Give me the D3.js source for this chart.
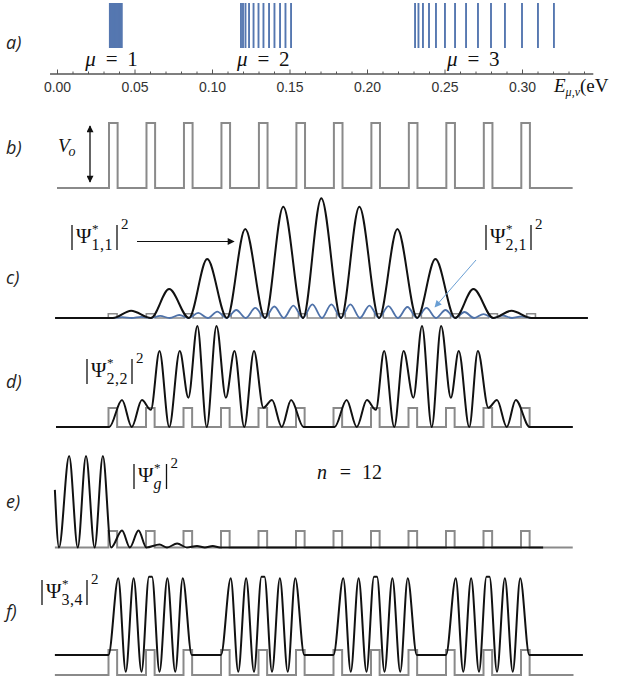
<!DOCTYPE html>
<html><head><meta charset="utf-8">
<script src="https://cdn.jsdelivr.net/npm/d3@7/dist/d3.min.js"></script>
<style>body{margin:0;background:#fff}svg{display:block}</style>
</head><body>
<script>
// ================= DATA =================
const energyTicks = [0.00, 0.05, 0.10, 0.15, 0.20, 0.25, 0.30];
const energyMinorTicks = [0.01,0.02,0.03,0.04,0.06,0.07,0.08,0.09,0.11,0.12,0.13,0.14,0.16,0.17,0.18,0.19,
  0.21,0.22,0.23,0.24,0.26,0.27,0.28,0.29,0.31,0.32,0.33,0.34];
const axisExtent = [-0.0045, 0.346];
const levelsMu1 = [0.0342,0.0345,0.0350,0.0356,0.0363,0.0370,0.0378,0.0386,0.0394,0.0402,0.0410,0.0417];
const levelsMu2 = [0.1187,0.1200,0.1216,0.1239,0.1268,0.1300,0.1332,0.1368,0.1403,0.1439,0.1474,0.1510];
const levelsMu3 = [0.2310,0.2332,0.2361,0.2400,0.2445,0.2503,0.2568,0.2639,0.2716,0.2800,0.2890,0.3000,0.3103,0.3206];
const bandNumbers = ["1", "2", "3"];
const bandLabelEnergy = [0.0352, 0.1331, 0.2686];
const panelLetters = ["a)", "b)", "c)", "d)", "e)", "f)"];

// lattice: barrier k occupies [k, k+barrierWidth] (lattice units)
const barrierStarts = [0,1,2,3,4,5,6,7,8,9,10,11];
const barrierWidth = 0.23;

// c) |Psi*_{1,1}|^2  (black), [position, value]
const psi11 = [[-1.40,0],[0.12,0],[0.60,0.061],[1.12,0],[1.60,0.242],[2.12,0],[2.60,0.493],[3.12,0],[3.60,0.744],
  [4.12,0],[4.60,0.930],[5.12,0],[5.60,1.000],[6.12,0],[6.60,0.930],[7.12,0],[7.60,0.744],[8.12,0],[8.60,0.493],
  [9.12,0],[9.60,0.242],[10.12,0],[10.60,0.061],[11.12,0],[12.61,0]];
// c) |Psi*_{2,1}|^2  (blue)
const psi21 = [[-0.43,0],[0.115,0],[0.365,0.007],[0.615,0],[0.865,0.010],[1.115,0],[1.365,0.017],[1.615,0],[1.865,0.025],
  [2.115,0],[2.365,0.042],[2.615,0],[2.865,0.054],[3.115,0],[3.365,0.067],[3.615,0],[3.865,0.084],[4.115,0],
  [4.365,0.096],[4.615,0],[4.865,0.104],[5.115,0],[5.365,0.113],[5.615,0],[5.865,0.114],[6.115,0],[6.365,0.113],
  [6.615,0],[6.865,0.104],[7.115,0],[7.365,0.100],[7.615,0],[7.865,0.092],[8.115,0],[8.365,0.084],[8.615,0],
  [8.865,0.067],[9.115,0],[9.365,0.050],[9.615,0],[9.865,0.033],[10.115,0],[10.365,0.021],[10.615,0],[10.865,0.013],
  [11.115,0],[11.61,0]];
// d) |Psi*_{2,2}|^2
const psi22 = [[-1.40,0],[0.02,0],[0.36,0.267],[0.62,0],[0.89,0.267],[1.13,0.17],[1.36,0.752],[1.62,0],[1.90,0.752],
  [2.13,0.29],[2.37,1.0],[2.62,0],[2.88,1.0],[3.13,0.29],[3.36,0.752],[3.62,0],[3.88,0.752],[4.13,0.19],[4.36,0.267],
  [4.62,0],[4.87,0.267],[5.20,0],[6.03,0],[6.35,0.267],[6.62,0],[6.89,0.267],[7.13,0.17],[7.35,0.752],[7.62,0],
  [7.87,0.752],[8.13,0.29],[8.36,1.0],[8.62,0],[8.87,1.0],[9.13,0.29],[9.34,0.752],[9.62,0],[9.85,0.752],[10.13,0.19],
  [10.36,0.267],[10.62,0],[10.86,0.267],[11.23,0],[12.38,0]];
// e) |Psi*_g|^2
const psiG = [[-1.43,0.63],[-1.32,0],[-1.05,1.0],[-0.82,0],[-0.60,1.0],[-0.37,0],[-0.15,1.0],[0.07,0],[0.36,0.186],
  [0.57,0],[0.80,0.186],[1.01,0],[1.36,0.033],[1.56,0],[1.83,0.044],[2.09,0],[2.36,0.016],[2.57,0],[2.78,0.016],
  [2.97,0],[11.59,0]];
// f) |Psi*_{3,4}|^2
const psi34 = [[-1.43,0.207],[0.00,0.207],[0.26,1.0],[0.46,0.034],[0.67,1.0],[0.88,0.034],[1.08,1.017],[1.16,1.017],
  [1.36,0.034],[1.57,1.0],[1.78,0.034],[1.98,1.0],[2.22,0.207],
  [3.00,0.207],[3.26,1.0],[3.46,0.034],[3.67,1.0],[3.88,0.034],[4.08,1.017],[4.16,1.017],[4.36,0.034],
  [4.57,1.0],[4.78,0.034],[4.98,1.0],[5.22,0.207],
  [6.00,0.207],[6.26,1.0],[6.46,0.034],[6.67,1.0],[6.88,0.034],[7.08,1.017],[7.16,1.017],[7.36,0.034],
  [7.57,1.0],[7.78,0.034],[7.98,1.0],[8.22,0.207],
  [9.00,0.207],[9.26,1.0],[9.46,0.034],[9.67,1.0],[9.88,0.034],[10.08,1.017],[10.16,1.017],[10.36,0.034],
  [10.57,1.0],[10.78,0.034],[10.98,1.0],[11.22,0.207],[12.65,0.207]];

// ================= DRAWING =================
const MATH = "'Liberation Serif','DejaVu Serif',serif";
const SANS = "'Liberation Sans',Arial,sans-serif";
const LAB = "'Open Sans','Liberation Sans',sans-serif";
const BLACK = "#111", GRAY = "#8a8a8a", BLUE = "#4f72a9", BLUE2 = "#6a9fd4", BAR = "#5577b0";

const svg = d3.select("body").append("svg").attr("width", 618).attr("height", 680);
const defs = svg.append("defs");
function marker(id, color, w, h) {
  defs.append("marker").attr("id", id).attr("viewBox", "0 0 10 10").attr("refX", 9).attr("refY", 5)
    .attr("markerWidth", w).attr("markerHeight", h).attr("orient", "auto-start-reverse")
    .attr("markerUnits", "userSpaceOnUse")
    .append("path").attr("d", "M0,0 L10,5 L0,10 Z").attr("fill", color);
}
marker("ahBlack", BLACK, 10, 7);
marker("ahBlue", BLUE2, 9, 7);

// panel letters
const letterBase = [49, 154, 284, 388, 508, 618];
panelLetters.forEach((t, i) => {
  svg.append("text").attr("x", 6).attr("y", letterBase[i]).attr("font-family", LAB)
    .attr("font-style", "italic").attr("font-size", 18).attr("fill", "#222").text(t);
});

// ---------- a) energy levels ----------
const xE = d3.scaleLinear().domain([0, 0.30]).range([57, 522]);
const axisY = 74;
const gA = svg.append("g");
[levelsMu1, levelsMu2, levelsMu3].forEach((lv, bi) => {
  gA.selectAll(null).data(lv).enter().append("line")
    .attr("x1", d => xE(d)).attr("x2", d => xE(d)).attr("y1", 3).attr("y2", 48)
    .attr("stroke", BAR).attr("stroke-width", bi === 0 ? 2.2 : 1.9);
});
const ax = svg.append("g").attr("transform", `translate(0,${axisY})`);
ax.append("line").attr("x1", xE(axisExtent[0])).attr("x2", xE(axisExtent[1]))
  .attr("stroke", "#555").attr("stroke-width", 1.4);
const minorAxis = ax.append("g").call(d3.axisBottom(xE).tickValues(energyMinorTicks).tickSize(-2.5).tickFormat(""));
const majorAxis = ax.append("g").call(d3.axisBottom(xE).tickValues(energyTicks).tickSize(-4.5).tickPadding(8)
  .tickFormat(d3.format(".2f")));
[minorAxis, majorAxis].forEach(g => {
  g.select(".domain").remove();
  g.selectAll(".tick line").attr("stroke", "#555").attr("stroke-width", 1);
});
majorAxis.selectAll(".tick text").attr("font-family", SANS).attr("font-size", 14).attr("fill", "#333");
// band labels
bandNumbers.forEach((n, i) => {
  const cx = xE(bandLabelEnergy[i]);
  const t = svg.append("g").attr("font-family", MATH).attr("font-size", 21).attr("fill", "#111");
  t.append("text").attr("x", cx - 21).attr("y", 66).attr("text-anchor", "middle").attr("font-style", "italic").text("μ");
  t.append("text").attr("x", cx).attr("y", 66).attr("text-anchor", "middle").text("=");
  t.append("text").attr("x", cx + 21).attr("y", 66).attr("text-anchor", "middle").text(n);
});
// axis title E_{mu,nu}(eV
const et = svg.append("text").attr("x", 554).attr("y", 92).attr("font-family", MATH).attr("font-size", 19).attr("fill", "#111");
et.append("tspan").attr("font-style", "italic").text("E");
et.append("tspan").attr("font-style", "italic").attr("font-size", 12).attr("dy", 4).text("μ,ν");
et.append("tspan").attr("dy", -4).text("(eV");

// ---------- helpers ----------
function potentialPoints(u0, u1, h) {
  const pts = [[u0, 0]];
  barrierStarts.forEach(k => pts.push([k, 0], [k, h], [k + barrierWidth, h], [k + barrierWidth, 0]));
  pts.push([u1, 0]);
  return pts;
}
function drawPotential(x, y, u0, u1, h, sw) {
  svg.append("path").datum(potentialPoints(u0, u1, h))
    .attr("d", d3.line().x(d => x(d[0])).y(d => y(d[1])))
    .attr("fill", "none").attr("stroke", GRAY).attr("stroke-width", sw);
}
function drawWave(x, y, data, color, sw) {
  svg.append("path").datum(data)
    .attr("d", d3.line().x(d => x(d[0])).y(d => y(d[1])).curve(d3.curveMonotoneX))
    .attr("fill", "none").attr("stroke", color).attr("stroke-width", sw).attr("stroke-linejoin", "round");
}
function psiLabel(x, yBase, sub, subItalic) {
  const g = svg.append("g").attr("transform", `translate(${x},${yBase})`).attr("font-family", MATH).attr("fill", "#111");
  g.append("line").attr("x1", 0).attr("x2", 0).attr("y1", -18).attr("y2", 7).attr("stroke", "#111").attr("stroke-width", 1.3);
  const psi = g.append("text").attr("x", 4).attr("font-size", 21).text("Ψ");
  const w = psi.node().getComputedTextLength();
  g.append("text").attr("x", 4 + w + 0.5).attr("y", -10).attr("font-size", 13).text("*");
  const s = g.append("text").attr("x", 4 + w).attr("y", 7).attr("font-size", 16).attr("letter-spacing", 0.5)
    .attr("font-style", subItalic ? "italic" : "normal").text(sub);
  const sw = s.node().getComputedTextLength();
  const rx = 4 + w + Math.max(sw, 9) + 4;
  g.append("line").attr("x1", rx).attr("x2", rx).attr("y1", -18).attr("y2", 7).attr("stroke", "#111").attr("stroke-width", 1.3);
  g.append("text").attr("x", rx + 4).attr("y", -14).attr("font-size", 15).text("2");
}

// ---------- b) potential ----------
const xb = d3.scaleLinear().domain([0, 11]).range([109, 521.3]);
const yb = d3.scaleLinear().domain([0, 1]).range([188, 123]);
drawPotential(xb, yb, -1.387, 12.37, 1, 2);
svg.append("line").attr("x1", 90).attr("x2", 90).attr("y1", 126).attr("y2", 182)
  .attr("stroke", BLACK).attr("stroke-width", 1.3)
  .attr("marker-start", "url(#ahBlack)").attr("marker-end", "url(#ahBlack)");
const vt = svg.append("text").attr("x", 58).attr("y", 152).attr("font-family", MATH).attr("font-size", 19)
  .attr("font-style", "italic").attr("fill", "#111");
vt.append("tspan").text("V");
vt.append("tspan").attr("font-size", 14).attr("dy", 4).attr("dx", -1).text("o");

// ---------- c) ----------
const xc = d3.scaleLinear().domain([0, 11]).range([108.3, 526.7]);
const yc = d3.scaleLinear().domain([0, 1]).range([318, 198.3]);
drawPotential(xc, yc, -0.43, 11.61, 0.035, 1.6);
drawWave(xc, yc, psi21, BLUE, 1.8);
drawWave(xc, yc, psi11, BLACK, 2);
psiLabel(72, 243, "1,1", false);
psiLabel(486, 243, "2,1", false);
svg.append("line").attr("x1", 137).attr("y1", 241.5).attr("x2", 234).attr("y2", 241.5)
  .attr("stroke", BLACK).attr("stroke-width", 1.1).attr("marker-end", "url(#ahBlack)");
svg.append("line").attr("x1", 476).attr("y1", 260).attr("x2", 435).attr("y2", 307)
  .attr("stroke", BLUE2).attr("stroke-width", 1).attr("marker-end", "url(#ahBlue)");

// ---------- d) ----------
const xd = d3.scaleLinear().domain([0, 11]).range([108.5, 521]);
const yd = d3.scaleLinear().domain([0, 1]).range([427, 326]);
drawPotential(xd, yd, -1.4, 12.38, 0.188, 2);
drawWave(xd, yd, psi22, BLACK, 2);
psiLabel(87, 377, "2,2", false);

// ---------- e) ----------
const xe = d3.scaleLinear().domain([0, 11]).range([108.5, 521]);
const ye = d3.scaleLinear().domain([0, 1]).range([547.5, 456]);
drawPotential(xe, ye, -1.43, 12.38, 0.18, 2);
drawWave(xe, ye, psiG, BLACK, 2);
psiLabel(134, 482, "g", true);
const nt = svg.append("g").attr("font-family", MATH).attr("font-size", 20).attr("fill", "#111");
nt.append("text").attr("x", 317).attr("y", 479).attr("font-style", "italic").text("n");
nt.append("text").attr("x", 345.5).attr("y", 479).attr("text-anchor", "middle").text("=");
nt.append("text").attr("x", 362).attr("y", 479).text("12");

// ---------- f) ----------
const xf = d3.scaleLinear().domain([0, 11]).range([108.5, 521]);
const yf = d3.scaleLinear().domain([0, 1]).range([675, 578.3]);
drawPotential(xf, yf, -1.43, 12.4, 0.259, 2);
drawWave(xf, yf, psi34, BLACK, 2);
psiLabel(42, 598, "3,4", false);
</script>
</body></html>
